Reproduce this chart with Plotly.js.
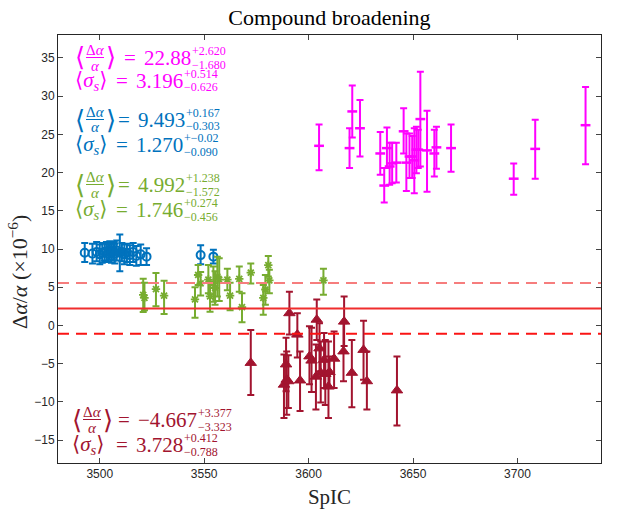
<!DOCTYPE html>
<html>
<head>
<meta charset="utf-8">
<script src="https://cdn.plot.ly/plotly-3.0.1.min.js"></script>
<style>
  body { margin: 0; background: #fff; }
  #plot { width: 623px; height: 515px; }
</style>
</head>
<body>
<div id="plot"></div>
<script>
// ---------------- data ----------------
// magenta group
var magX  = [3605.0, 3619.6, 3620.9, 3624.6, 3634.3, 3636.2, 3637.5, 3638.8, 3640.0, 3642.0, 3645.5, 3646.8, 3648.3,
             3649.6, 3650.6, 3651.6, 3652.5, 3653.5, 3656.7, 3660.2, 3661.2, 3668.2, 3698.2, 3708.5, 3732.6];
var magY  = [23.5, 23.2, 28.0, 25.8, 22.5, 18.3, 23.2, 20.8, 21.2, 21.3, 25.4, 21.3, 22.1,
             22.1, 21.6, 23.0, 23.0, 27.0, 22.9, 22.5, 23.3, 23.2, 19.2, 23.1, 26.2];
var magUp = [2.8, 2.6, 3.4, 3.7, 2.8, 2.3, 2.7, 3.1, 2.7, 2.6, 3.0, 3.8, 3.0,
             2.7, 4.2, 3.0, 2.6, 6.2, 5.2, 3.1, 2.7, 3.1, 2.0, 3.8, 5.0];
var magDn = [3.2, 2.6, 3.4, 3.7, 2.8, 2.2, 2.6, 2.4, 2.6, 2.6, 2.9, 3.7, 2.8,
             2.8, 4.3, 3.1, 2.4, 6.2, 5.4, 3.0, 2.8, 3.1, 2.1, 3.9, 5.1];

// blue group
var bluX  = [3492.8, 3496.5, 3498.5, 3500.0, 3501.2, 3502.3, 3503.2, 3504.0, 3504.8, 3505.6, 3506.4, 3507.2,
             3508.1, 3509.6, 3510.6, 3511.8, 3513.0, 3514.4, 3516.0, 3517.5, 3519.6, 3522.4, 3548.3, 3554.4];
var bluY  = [9.5, 9.4, 9.6, 9.3, 9.5, 9.6, 9.7, 9.4, 9.8, 9.5, 9.7, 9.4,
             9.8, 9.5, 9.6, 9.3, 9.5, 9.2, 9.6, 9.1, 9.3, 9.0, 9.2, 9.0];
var bluUp = [1.3, 1.3, 1.3, 1.3, 1.3, 1.1, 1.2, 1.2, 1.2, 1.3, 1.2, 1.3,
             1.3, 2.4, 1.2, 1.3, 1.2, 1.3, 1.2, 1.3, 1.3, 1.1, 1.3, 0.9];
var bluDn = [1.2, 1.3, 1.2, 1.3, 1.3, 1.1, 1.3, 1.1, 1.2, 1.3, 1.2, 1.3,
             1.3, 2.4, 1.2, 1.3, 1.2, 1.3, 1.3, 1.3, 1.4, 1.1, 1.2, 0.9];

// green group
var grnX  = [3520.8, 3521.4, 3526.9, 3530.8, 3545.6, 3547.1, 3548.3, 3552.0, 3552.8, 3554.4, 3555.2, 3556.3,
             3557.2, 3561.1, 3562.4, 3566.8, 3568.1, 3572.3, 3578.3, 3579.3, 3580.7, 3581.2, 3607.1];
var grnY  = [4.0, 3.6, 4.75, 3.9, 3.4, 6.6, 5.5, 6.0, 3.8, 5.5, 4.9, 6.4,
             6.0, 6.0, 3.9, 6.1, 2.4, 6.9, 3.6, 4.7, 7.9, 5.9, 5.9];
var grnUp = [2.1, 2.0, 2.1, 1.95, 1.6, 1.3, 1.5, 1.9, 1.8, 2.2, 2.2, 2.6,
             2.8, 1.4, 1.7, 1.6, 1.8, 1.2, 1.7, 1.9, 1.2, 1.4, 1.5];
var grnDn = [2.25, 1.6, 2.25, 2.4, 2.4, 1.3, 1.6, 1.8, 2.0, 2.4, 2.2, 2.6,
             2.8, 1.4, 1.9, 1.7, 2.0, 1.4, 2.2, 2.0, 1.5, 1.7, 1.9];

// dark red group
var redX  = [3572.3, 3588.2, 3589.2, 3589.5, 3590.3, 3590.8, 3594.6, 3595.9, 3600.4, 3601.4, 3603.9, 3603.5, 3605.2,
             3605.8, 3607.4, 3608.0, 3609.5, 3610.0, 3612.2, 3617.0, 3616.7, 3620.7, 3626.3, 3627.9, 3642.3];
var redY  = [-4.9, -7.75, -5.1, -7.1, -7.3, 1.6, -1.2, -7.2, -4.05, -4.6, 0.75, -6.7, -3.0,
             -6.2, -4.5, -6.35, -8.0, -6.1, -4.35, 0.5, -3.4, -6.2, -3.2, -7.3, -8.5];
var redUp = [4.3, 3.95, 3.5, 3.7, 3.4, 2.8, 2.8, 3.8, 3.95, 4.3, 2.65, 4.2, 3.3,
             4.1, 3.5, 4.45, 5.9, 2.05, 3.55, 3.3, 3.7, 4.3, 3.8, 3.9, 4.45];
var redDn = [4.2, 4.35, 3.5, 4.6, 3.5, 2.8, 3.0, 4.0, 3.65, 4.1, 2.65, 4.3, 3.0,
             3.9, 3.7, 4.05, 4.1, 2.1, 3.85, 3.2, 3.9, 4.5, 3.9, 3.7, 4.6];

// overall mean and its band
var meanVal = 2.2;
var bandHi = 5.55;
var bandLo = -1.1;

// summary labels: value, upper, lower (rows: frac, sigma, frac, sigma, ...)
var labVal = ['22.88', '3.196', '9.493', '1.270', '4.992', '1.746', '\u22124.667', '3.728'];
var labUp  = ['+2.620', '+0.514', '+0.167', '+\u22120.02', '+1.238', '+0.274', '+3.377', '+0.412'];
var labDn  = ['\u22121.680', '\u22120.626', '\u22120.303', '\u22120.090', '\u22121.572', '\u22120.456', '\u22123.323', '\u22120.788'];

// ---------------- styling ----------------
var cMag = '#FF00FF', cBlu = '#0072BD', cGrn = '#77AC30', cRed = '#A2142F';
var serifName = 'Liberation Serif';
var serif = 'Liberation Serif, DejaVu Serif, serif';
var valSize = 21, scriptSize = 12;

// plot box in pixels (used to place the label pieces)
var L = 58, R = 601, T = 35, B = 463;
var px = function (p) { return (p - L) / (R - L); };
var py = function (p) { return (B - p) / (B - T); };

// text width, so the stacked super/subscripts sit right after the value
var ctx = document.createElement('canvas').getContext('2d');
var textWidth = function (s, size) {
  ctx.font = size + 'px "' + serifName + '"';
  return ctx.measureText(s).width;
};

// row layout: colour, kind, left bracket px, value start px, centre y px
var rows = [
  [cMag, 'frac', 76, 142, 58],
  [cMag, 'sig',  76, 134, 81],
  [cBlu, 'frac', 76, 136, 120],
  [cBlu, 'sig',  76, 134, 145],
  [cGrn, 'frac', 76, 136, 185],
  [cGrn, 'sig',  76, 134, 210],
  [cRed, 'frac', 73, 136, 420],
  [cRed, 'sig',  73, 134, 445]
];

var ann = [];
var shp = [];

var txt = function (text, x, y, size, color, xa, angle) {
  ann.push({
    text: text, x: px(x), y: py(y), xref: 'paper', yref: 'paper',
    xanchor: xa, yanchor: 'middle', showarrow: false, textangle: angle || 0,
    font: {family: serif, size: size, color: color}
  });
};

for (var i = 0; i < rows.length; i++) {
  var c = rows[i][0], kind = rows[i][1], bx = rows[i][2], vs = rows[i][3], yc = rows[i][4];
  if (kind === 'frac') {
    txt('\u27E8', bx - 3, yc, 26, c, 'left');
    txt('\u0394<i>\u03B1</i>', bx + 19, yc - 8, 15, c, 'center');
    txt('<i>\u03B1</i>', bx + 19, yc + 7.5, 15, c, 'center');
    shp.push({type: 'line', xref: 'paper', yref: 'paper', x0: px(bx + 10), x1: px(bx + 28),
              y0: py(yc - 0.5), y1: py(yc - 0.5), line: {color: c, width: 1}});
    txt('\u27E9', bx + 28, yc, 26, c, 'left');
  } else {
    txt('\u27E8<i>\u03C3</i><sub><i>s</i></sub>\u27E9', bx - 3, yc, 21, c, 'left');
  }
  txt('=', vs - 12, yc, valSize, c, 'center');
  txt(labVal[i], vs, yc, valSize, c, 'left');
  var sx = vs + textWidth(labVal[i], valSize) + 1;
  txt(labUp[i], sx, yc - 7.5, scriptSize, c, 'left');
  txt(labDn[i], sx, yc + 6.5, scriptSize, c, 'left');
}

// y axis label placed by hand (MATLAB puts it a bit below the middle)
txt('\u0394<i>\u03B1</i>/<i>\u03B1</i> (\u00D710<sup>\u22126</sup>)', 18, 272, 22, '#262626', 'center', -90);

// mean line and band edges
var hline = function (yv, color, dash) {
  shp.push({type: 'line', xref: 'paper', yref: 'y', x0: 0, x1: 1, y0: yv, y1: yv,
            layer: 'above', line: {color: color, width: 2, dash: dash}});
};
hline(bandHi, 'rgb(246,125,125)', '11px,7px');
hline(meanVal, 'rgb(240,45,45)', 'solid');
hline(bandLo, 'rgb(250,20,20)', '11px,7px');

var series = function (x, y, up, dn, color, symbol, size, lw) {
  return {
    x: x, y: y, type: 'scatter', mode: 'markers',
    error_y: {type: 'data', symmetric: false, array: up, arrayminus: dn,
              color: color, thickness: 2, width: 3.5},
    marker: {symbol: symbol, size: size, color: color, line: {color: color, width: lw}}
  };
};

var data = [
  series(magX, magY, magUp, magDn, cMag, 'line-ew-open', 7, 2.5),
  series(bluX, bluY, bluUp, bluDn, cBlu, 'circle-open', 8, 2),
  series(grnX, grnY, grnUp, grnDn, cGrn, 'asterisk-open', 7, 1.8),
  series(redX, redY, redUp, redDn, cRed, 'triangle-up', 10, 1)
];

var axisBase = {
  showgrid: false, zeroline: false, showline: true, mirror: 'ticks',
  linecolor: '#262626', linewidth: 1,
  ticks: 'inside', ticklen: 5, tickwidth: 1, tickcolor: '#444',
  tickfont: {family: 'Liberation Sans, Arial, sans-serif', size: 12, color: '#262626'}
};

var layout = {
  width: 623, height: 515,
  margin: {l: L, r: 623 - R, t: T, b: 515 - B},
  paper_bgcolor: '#fff', plot_bgcolor: '#fff',
  showlegend: false, hovermode: false,
  title: {text: 'Compound broadening', x: 0.5, xref: 'paper', y: 1 - 17 / 515, yanchor: 'middle',
          font: {family: serif, size: 22, color: '#000'}},
  xaxis: Object.assign({}, axisBase, {
    range: [3480, 3740], tickvals: [3500, 3550, 3600, 3650, 3700],
    title: {text: 'SpIC', standoff: 8, font: {family: serif, size: 21, color: '#262626'}}
  }),
  yaxis: Object.assign({}, axisBase, {
    range: [-18, 38], tickvals: [-15, -10, -5, 0, 5, 10, 15, 20, 25, 30, 35]
  }),
  annotations: ann,
  shapes: shp
};

Plotly.newPlot('plot', data, layout, {displayModeBar: false, staticPlot: true});
</script>
</body>
</html>
